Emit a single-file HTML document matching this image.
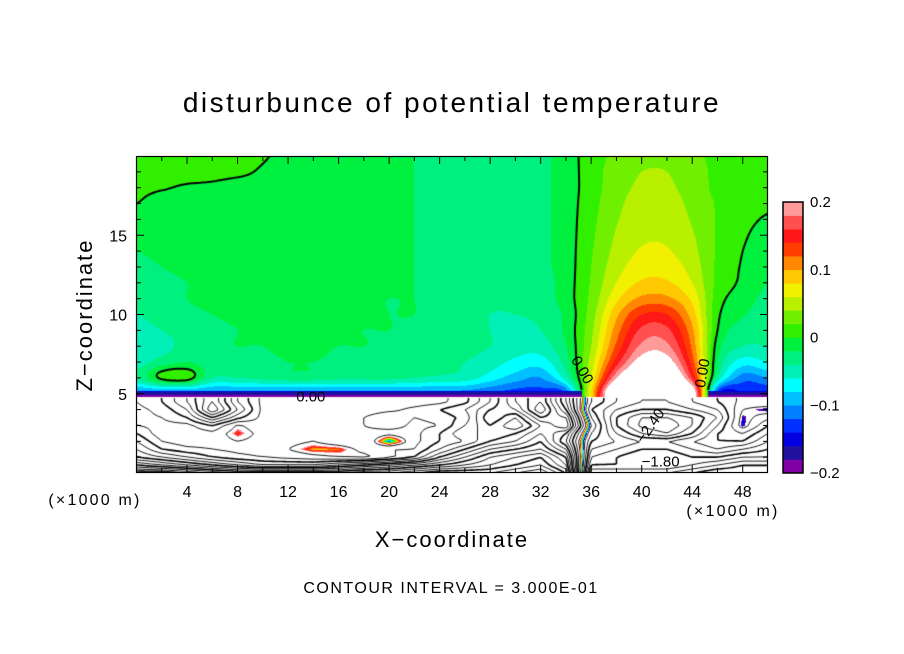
<!DOCTYPE html>
<html><head><meta charset="utf-8">
<style>
html,body{margin:0;padding:0;background:#fff;}
#wrap{position:relative;width:904px;height:654px;overflow:hidden;font-family:"Liberation Sans",sans-serif;}
#fld{position:absolute;left:136px;top:156px;}
#ov{position:absolute;left:0;top:0;}
</style></head>
<body>
<div id="wrap">
<canvas id="fld" width="632" height="317"></canvas>
<svg id="ov" width="904" height="654"></svg>
</div>
<script>
// ---- data ----
const xNodes = [0,2,4,6,8,10,12,14,16,18,20,22,24,26,28,30,32,34,36,38,40,42,44,46,48,50];
const upperZ = [20,19,18,17,16,15,14,13,12,11,10,9,8,7,6,5];
// upper field, hundredths
const upperRows = [
"1 1 1 1 1 0.2 -0.5 -1 -1 -1 -1 -2 -3 -3 -3 -3 -2.5 -1 1 2.5 3.5 3.5 2.5 1.5 1 0.5",
"1 1 1 0.8 0.5 -0.3 -1 -1 -1 -1 -1 -2 -3 -3 -3 -3 -2.5 -1 1 3 4 4 3 1.5 1 0.5",
"0.5 0.2 -0.3 -0.5 -1 -1 -1 -1 -1 -1 -1.5 -2 -3 -3 -3 -3 -2.5 -1 1 3.2 4.3 4.3 3.2 1.5 1 0.5",
"0 -1 -1 -1 -1 -1 -1 -1 -1 -1 -1.5 -2 -3 -3 -3 -3 -2.5 -1 1.2 3.5 4.8 4.8 3.5 1.8 0.8 0.3",
"-1 -1 -1 -1 -1 -1 -1 -1 -1 -1 -1.5 -2 -3 -3 -3 -3 -2.5 -1 1.4 3.8 5.2 5.2 3.8 1.8 0.6 -0.2",
"-1.5 -1 -1 -1 -1 -1 -1 -1 -1 -1 -1.5 -2 -3 -3 -3 -3 -2.5 -1 1.6 4.2 5.6 5.6 4.2 1.8 0.3 -0.8",
"-2 -1.5 -1 -1 -1 -1 -1 -1 -1 -1 -1.5 -2 -3 -3 -3 -3 -2.5 -1 1.8 4.6 6.2 6.2 4.6 1.8 0 -1.2",
"-2.5 -2 -1.5 -1 -1 -1 -1 -1 -1 -1 -1.5 -2 -3 -3 -3 -3 -2.5 -1 2 5.2 7 7 5.2 1.6 -0.2 -1.5",
"-3 -2.5 -2 -1.5 -1 -1 -1 -1 -1 -1 -1.5 -2 -3 -3 -3.5 -3.5 -3 -1 2.2 6 8.3 8.3 6 1.5 -0.4 -2",
"-3.5 -3 -2 -1.5 -1 -1 -1 -1 -1 -1.5 -2 -2 -3 -3 -3.5 -3.5 -3 -1 2.5 7.5 10.5 10.5 7.5 1 -1 -2.5",
"-4 -3.5 -2.5 -2 -1.5 -1 -1 -1 -1 -1.5 -2 -2 -3 -3 -4 -4 -3.5 -1.5 3 9.5 14 14 9 0.5 -1.8 -3",
"-4.5 -4 -3 -2.5 -2 -1.5 -1 -1 -1.5 -2 -2 -2.5 -3 -3.5 -4 -4.5 -4 -1.5 3.5 11 16.5 16.5 10.5 0 -3 -3.5",
"-6 -5 -3 -2.5 -2 -2 -1 -1.5 -2 -2 -2.5 -2.5 -3 -3.5 -4 -5 -5 -2 4 12.5 18.5 18.5 11.5 -1 -4 -4",
"-5 -3 -2 -3 -3 -3 -2 -2 -2.5 -3 -3 -3 -3.5 -4 -5 -6.5 -7 -3 5 15 21.5 21.5 13 -2 -7 -6",
"-4 0.5 1 -4 -4 -3.5 -3 -3 -3.5 -3.5 -3.5 -4 -4.5 -5 -7 -9 -10 -5 6 20 26 26 16 -4 -11 -10",
"-11 -11 -11 -11 -11 -11 -11 -11 -11 -11 -11 -11 -11 -11 -12 -13 -13 -12 8 28 30 30 24 -13 -14 -14"
];
const lowerZ = [4.5,4,3.5,3,2.5,2,1.5,1,0.5,0];
// lower field, real units
const lowerRows = [
"0.6 0.9 1.5 2.4 1.2 0.5 0.4 0.5 0.6 0.5 0.4 0.4 0.5 0.8 1.5 2.4 3.0 1.5 -0.6 -1.2 -1.5 -1.5 -1.2 -0.9 -0.5 -0.6",
"0.5 0.7 1.2 2.7 1.5 0.5 0.4 0.4 0.4 0.4 0.5 0.7 0.9 1.2 1.8 2.1 3.3 1.8 -0.9 -1.5 -1.8 -1.8 -1.5 -1.2 -0.3 -0.1",
"0.5 0.6 0.9 1.8 1.0 0.5 0.45 0.4 0.4 0.6 0.9 0.6 0.7 1.0 2.1 1.5 2.7 2.4 -0.6 -1.8 -2.4 -2.4 -2.1 -1.5 -0.15 -0.5",
"0.6 0.5 0.5 0.9 0.25 0.5 0.45 0.4 0.45 0.6 0.8 0.5 0.6 1.2 1.8 1.2 2.1 2.7 -0.3 -1.8 -2.5 -2.7 -2.1 -1.2 -0.12 -0.9",
"0.9 0.4 0.4 0.5 0.12 0.4 0.4 0.4 0.45 0.5 0.4 0.5 0.9 1.5 1.5 1.8 2.4 1.8 -0.6 -1.5 -2.1 -2.4 -1.8 -0.9 -0.6 -1.2",
"1.2 0.6 0.4 0.45 0.3 0.4 0.4 0.3 0.5 0.6 -0.15 0.5 0.9 1.2 1.8 2.1 2.7 1.5 -0.9 -1.2 -1.5 -1.5 -1.2 -0.9 -0.9 -1.5",
"1.5 0.9 0.7 0.6 0.5 0.45 0.3 0.08 0.1 0.4 0.6 0.6 1.2 1.8 2.4 2.7 3.0 2.1 -1.2 -1.5 -1.8 -1.8 -1.5 -1.2 -1.5 -1.8",
"1.8 1.5 1.2 0.9 0.7 0.6 0.5 0.4 0.3 0.2 0.5 0.9 1.8 2.4 3.0 3.3 3.6 2.7 -1.5 -1.8 -2.1 -2.1 -1.8 -1.8 -2.1 -2.1",
"2.7 2.4 2.1 1.8 1.5 1.2 1.2 1.2 1.5 1.8 2.1 2.4 2.7 3.0 3.3 3.6 3.9 3.0 -1.8 -1.8 -1.8 -1.8 -2.1 -2.4 -2.7 -2.7",
"3.9 3.9 3.6 3.3 3.0 3.0 3.0 3.0 3.0 3.3 3.3 3.6 3.9 3.9 3.9 4.2 4.5 3.6 -2.4 -2.4 -2.4 -2.4 -2.7 -3.0 -3.0 -3.0"
];
const colorLevels = [-0.2,-0.18,-0.16,-0.14,-0.12,-0.1,-0.08,-0.06,-0.04,-0.02,0,0.02,0.04,0.06,0.08,0.1,0.12,0.14,0.16,0.18,0.2];
const bandColors = ["#8000a8","#2010a0","#0000e0","#0030ff","#0080ff","#00c0ff","#00ffff","#00f0b8","#00f080","#00f040",
"#30f000","#70f000","#b8f000","#f0f000","#ffc800","#ff8800","#ff3c00","#ff1818","#ff5050","#ff9a9a"];
const xTicks = [4,8,12,16,20,24,28,32,36,40,44,48];
const zTicks = [5,10,15];
const cbTicks = [0.2,0.1,0,-0.1,-0.2];
const cbTickLabels = ["0.2","0.1","0","\u22120.1","\u22120.2"];
const contourLabels = [{x:13.8,z:4.5,t:"0.00",r:0},{x:41,z:2.8,t:"\u22122.40",r:-55},{x:41.5,z:0.4,t:"\u22121.80",r:0}];
const zeroLabels = [{x:35.3,z:6.5,r:60},{x:44.8,z:6.3,r:-80}];

// ---- scales ----
const X0=136.5, X1=768, Y0=473, Y1=156;
const sx = x => X0 + x*(X1-X0)/50;
const sz = z => Y0 - z*(Y0-Y1)/20;
const U = upperRows.map(r=>r.split(/\s+/).map(Number));
const L = lowerRows.map(r=>r.split(/\s+/).map(Number));
const ZB = 4.8;
function cr(p0,p1,p2,p3,t){return 0.5*((2*p1)+(-p0+p2)*t+(2*p0-5*p1+4*p2-p3)*t*t+(-p0+3*p1-3*p2+p3)*t*t*t);}
function cub(grid, zs, x, z){
  const nI=xNodes.length, nJ=zs.length;
  let fi=x/2; let i=Math.floor(fi); if(i>=nI-1)i=nI-2; if(i<0)i=0; const tx=fi-i;
  let j=0; while(j<nJ-2 && z<zs[j+1]) j++;
  let tz=(zs[j]-z)/(zs[j]-zs[j+1]); tz=Math.max(0,Math.min(1,tz));
  const ci=k=>Math.max(0,Math.min(nI-1,k)), cj=k=>Math.max(0,Math.min(nJ-1,k));
  const row=r=>{const g=grid[cj(r)];return cr(g[ci(i-1)],g[ci(i)],g[ci(i+1)],g[ci(i+2)],tx);};
  return cr(row(j-1),row(j),row(j+1),row(j+2),tz);
}
function bil(grid, zs, x, z){
  let fi = x/2; let i=Math.floor(fi); if(i>=xNodes.length-1) i=xNodes.length-2; if(i<0)i=0; const tx=fi-i;
  let j=0; while(j<zs.length-2 && z<zs[j+1]) j++;
  let tz=(zs[j]-z)/(zs[j]-zs[j+1]); tz=Math.max(0,Math.min(1,tz));
  const a=grid[j][i], b=grid[j][i+1], c=grid[j+1][i], d=grid[j+1][i+1];
  return (a*(1-tx)+b*tx)*(1-tz)+(c*(1-tx)+d*tx)*tz;
}
function f(x,z){
  if(z>=ZB){ let v=cub(U, upperZ, x, Math.max(5,z))/100;
    if(z<5.15 && v<0) v=-0.19 + (z-ZB)*0.1; return v; }
  return bil(L, lowerZ, x, Math.min(4.5,z));
}
function hex(c){return [parseInt(c.substr(1,2),16),parseInt(c.substr(3,2),16),parseInt(c.substr(5,2),16)];}
const rgb = bandColors.map(hex);

// ---- field ----
const cv=document.getElementById('fld'), ctx=cv.getContext('2d');
const W=cv.width,H=cv.height, img=ctx.createImageData(W,H);
for(let py=0;py<H;py++){
  const z=(Y0-(156+py+0.5))*20/(Y0-Y1);
  for(let px=0;px<W;px++){
    const x=(136+px+0.5-X0)*50/(X1-X0);
    const v=f(Math.max(0,Math.min(50,x)),z);
    let col=[255,255,255];
    if(v>=-0.2 && v<0.2){ let k=Math.floor((v+0.2)/0.02); k=Math.max(0,Math.min(19,k)); col=rgb[k]; }
    const o=(py*W+px)*4; img.data[o]=col[0];img.data[o+1]=col[1];img.data[o+2]=col[2];img.data[o+3]=255;
  }
}
ctx.putImageData(img,0,0);

// ---- contours (marching squares) ----
const st=2, nx=Math.ceil(W/st)+1, ny=Math.ceil(H/st)+1;
const S=[], ZZ=[];
for(let j=0;j<ny;j++){S.push([]);ZZ.push([]);for(let i=0;i<nx;i++){
  const x=(136+i*st-X0)*50/(X1-X0), z=(Y0-(156+j*st))*20/(Y0-Y1);
  S[j].push(f(Math.max(0,Math.min(50,x)),Math.max(0,Math.min(20,z)))); ZZ[j].push(z);}}
function contour(level, lower){
  ctx.beginPath();
  for(let j=0;j<ny-1;j++)for(let i=0;i<nx-1;i++){
    const zs=[ZZ[j][i],ZZ[j+1][i]];
    if(lower ? (zs[0]>=ZB) : (zs[1]<5.2)) continue;
    const a=S[j][i],b=S[j][i+1],c=S[j+1][i+1],d=S[j+1][i];
    const pts=[];
    const e=(v1,v2,x1,y1,x2,y2)=>{ if((v1<level)!==(v2<level)){const t=(level-v1)/(v2-v1); pts.push([x1+(x2-x1)*t,y1+(y2-y1)*t]);}};
    const x0=i*st,y0=j*st,x1=x0+st,y1=y0+st;
    e(a,b,x0,y0,x1,y0); e(b,c,x1,y0,x1,y1); e(c,d,x1,y1,x0,y1); e(d,a,x0,y1,x0,y0);
    for(let k=0;k+1<pts.length;k+=2){ctx.moveTo(pts[k][0],pts[k][1]);ctx.lineTo(pts[k+1][0],pts[k+1][1]);}
  }
  ctx.stroke();
}
ctx.strokeStyle='#000';
for(let k=-10;k<=15;k++){ if(k===0) continue; const lv=k*0.3;
  ctx.lineWidth= (k%3===0)?1.6:0.9; ctx.setLineDash(lv<0?[3,2]:[]); contour(lv,true);}
ctx.setLineDash([]); ctx.lineWidth=2; contour(0,false);

// ---- SVG overlay ----
const svg=document.getElementById('ov'), NS='http://www.w3.org/2000/svg';
function el(tag,attrs,parent){const e=document.createElementNS(NS,tag);for(const k in attrs)e.setAttribute(k,attrs[k]);(parent||svg).appendChild(e);return e;}
function txt(s,attrs){const t=el('text',Object.assign({'font-family':'Liberation Sans, sans-serif',fill:'#000'},attrs));t.textContent=s;return t;}

const frame=el('rect',{x:136.5,y:156.5,width:631,height:316,fill:'none',stroke:'#000','stroke-width':1.2});


for(let x=2;x<50;x+=2){const len=(x%4===0)?8:5;
  const t1=el('line',{x1:sx(x),x2:sx(x),y1:156,y2:156+len,stroke:'#000'});
  
  
  const t2=el('line',{x1:sx(x),x2:sx(x),y1:473,y2:473-len,stroke:'#000'});
  
  }
for(let z=1;z<20;z++){const len=(z%5===0)?8:5;
  const t1=el('line',{x1:136,x2:136+len,y1:sz(z),y2:sz(z),stroke:'#000'});
  
  
  const t2=el('line',{x1:768,x2:768-len,y1:sz(z),y2:sz(z),stroke:'#000'});
  
  }
xTicks.forEach(v=>{const t=txt(String(v),{x:sx(v),y:497,'font-size':16,'text-anchor':'middle'});
  
  });
zTicks.forEach(v=>{const t=txt(String(v),{x:127,y:sz(v)+6,'font-size':16,'text-anchor':'end'});
  
  });
contourLabels.forEach(c=>{const X=sx(c.x),Y=sz(c.z);
  const t=txt(c.t,{x:X,y:Y,'font-size':15,'text-anchor':'middle',transform:`rotate(${c.r} ${X} ${Y})`});
  
  });
zeroLabels.forEach(c=>{const X=sx(c.x),Y=sz(c.z);
  const t=txt("0.00",{x:X,y:Y+5,'font-size':15,'text-anchor':'middle',transform:`rotate(${c.r} ${X} ${Y})`});
  
  });
const cbTop=202, cbBot=473, cbX=783, cbW=20;
const cy=v=>cbBot-(v+0.2)/0.4*(cbBot-cbTop);
bandColors.forEach((c,k)=>{const r=el('rect',{x:cbX,y:cy(colorLevels[k+1]),width:cbW,height:cy(colorLevels[k])-cy(colorLevels[k+1])+0.3,fill:c});
  
  });
const cbf=el('rect',{x:cbX,y:cbTop,width:cbW,height:cbBot-cbTop,fill:'none',stroke:'#000','stroke-width':1.5});


cbTicks.forEach((v,k)=>{const t=txt(cbTickLabels[k],{x:810,y:cy(v)+5,'font-size':15});
  
  });
</script>
<svg width="904" height="654" style="position:absolute;left:0;top:0;pointer-events:none">
<text x="452" y="112" font-family="Liberation Sans, sans-serif" font-size="28" text-anchor="middle" letter-spacing="2.5">disturbunce of potential temperature</text>
<text x="95" y="505" font-family="Liberation Sans, sans-serif" font-size="16" text-anchor="middle" letter-spacing="2.2">(×1000 m)</text>
<text x="733" y="516" font-family="Liberation Sans, sans-serif" font-size="16" text-anchor="middle" letter-spacing="2.2">(×1000 m)</text>
<text x="452" y="547" font-family="Liberation Sans, sans-serif" font-size="22" text-anchor="middle" letter-spacing="2">X−coordinate</text>
<text x="0" y="0" transform="translate(92 315) rotate(-90)" font-family="Liberation Sans, sans-serif" font-size="22" text-anchor="middle" letter-spacing="2">Z−coordinate</text>
<text x="451" y="593" font-family="Liberation Sans, sans-serif" font-size="16" text-anchor="middle" letter-spacing="1.5">CONTOUR INTERVAL = 3.000E-01</text>
</svg>
</body></html>
